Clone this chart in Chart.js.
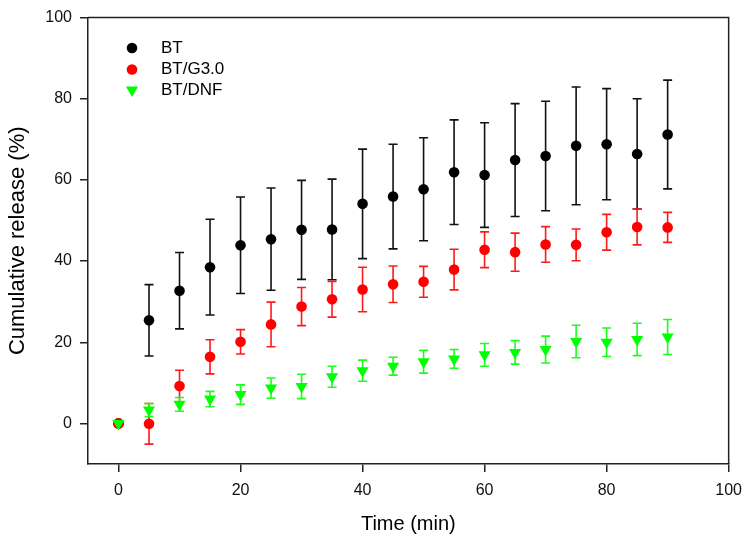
<!DOCTYPE html>
<html>
<head>
<meta charset="utf-8">
<script src="https://cdn.jsdelivr.net/npm/chart.js@4.4.1/dist/chart.umd.min.js"></script>
<style>
html,body{margin:0;padding:0;background:#fff;}
#wrap{width:751px;height:548px;}
</style>
</head>
<body>
<div id="wrap"><canvas id="c" width="751" height="548"></canvas></div>
<script>
// ---- data ----
const times = [0,5,10,15,20,25,30,35,40,45,50,55,60,65,70,75,80,85,90];
const btMean = [0,25.4,32.7,38.5,43.9,45.4,47.7,47.8,54.1,55.9,57.7,61.9,61.2,64.9,65.9,68.4,68.8,66.4,71.2];
const btErr  = [0,8.8,9.4,11.8,11.9,12.6,12.2,12.4,13.5,12.9,12.7,12.9,12.9,13.9,13.5,14.5,13.7,13.6,13.4];
const g3Mean = [0,-0.1,9.2,16.4,20.1,24.4,28.8,30.6,33.0,34.3,34.9,37.9,42.8,42.2,44.1,44.0,47.1,48.4,48.3];
const g3Err  = [0,5.0,3.9,4.2,3.0,5.5,4.7,4.4,5.5,4.5,3.8,5.0,4.4,4.7,4.4,3.9,4.4,4.4,3.7];
const dnfMean = [0,3.3,4.7,6.0,7.1,8.7,9.1,11.5,13.0,14.1,15.2,15.9,16.9,17.5,18.2,20.2,20.0,20.7,21.3];
const dnfErr  = [0,1.6,1.7,1.9,2.4,2.5,3.0,2.6,2.6,2.2,2.8,2.3,2.8,2.9,3.3,4.0,3.5,4.0,4.3];
const seriesLabels = ['BT','BT/G3.0','BT/DNF'];
const xTicks = [0,20,40,60,80,100];
const yTicks = [0,20,40,60,80,100];

const FONT = "'Liberation Sans', Arial, Helvetica, sans-serif";
const AXIS_COLOR = '#222';

function pts(means){ return times.map((t,i)=>({x:t, y:means[i]})); }

const errorBarPlugin = {
  id:'errorBars',
  beforeDatasetDraw(chart, args){
    const ds = chart.data.datasets[args.index];
    if(!ds.errors) return;
    const {ctx} = chart; const x = chart.scales.x, y = chart.scales.y;
    const cap = 4.5;
    ctx.save();
    ctx.strokeStyle = ds.errColor; ctx.lineWidth = 1.6;
    ds.data.forEach((p,j)=>{
      const e = ds.errors[j]; if(!e) return;
      const px = x.getPixelForValue(p.x);
      const yt = y.getPixelForValue(p.y+e), yb = y.getPixelForValue(p.y-e);
      ctx.beginPath();
      ctx.moveTo(px,yt); ctx.lineTo(px,yb);
      ctx.moveTo(px-cap,yt); ctx.lineTo(px+cap,yt);
      ctx.moveTo(px-cap,yb); ctx.lineTo(px+cap,yb);
      ctx.stroke();
    });
    ctx.restore();
  }
};

const framePlugin = {
  id:'frame',
  afterDraw(chart){
    const {ctx, chartArea:a} = chart;
    ctx.save();
    ctx.strokeStyle = AXIS_COLOR; ctx.lineWidth = 1.5;
    ctx.beginPath();
    ctx.moveTo(a.left, a.top); ctx.lineTo(a.right, a.top); ctx.lineTo(a.right, a.bottom);
    ctx.stroke();
    ctx.restore();
  }
};

const legendPlugin = {
  id:'insideLegend',
  afterDraw(chart){
    const {ctx} = chart;
    const x0 = 132, ys = [48, 69.5, 90], tx = 161;
    ctx.save();
    chart.data.datasets.forEach((ds,i)=>{
      ctx.fillStyle = ds.backgroundColor; ctx.strokeStyle = ds.backgroundColor;
      Chart.helpers.drawPoint(ctx, {pointStyle: ds.pointStyle, radius: ds.pointRadius, rotation: ds.pointRotation||0, borderWidth:0}, x0, ys[i]);
      ctx.fillStyle = '#000';
      ctx.font = '17px ' + FONT;
      ctx.textBaseline = 'middle'; ctx.textAlign = 'left';
      ctx.fillText(ds.label, tx, ys[i]);
    });
    ctx.restore();
  }
};

const chart = new Chart(document.getElementById('c'), {
  type:'scatter',
  data:{
    datasets:[
      {label:seriesLabels[0], data:pts(btMean), errors:btErr, errColor:'#111',
       backgroundColor:'#000', borderColor:'#000', pointStyle:'circle', pointRadius:5.3, pointBorderWidth:0, order:3},
      {label:seriesLabels[1], data:pts(g3Mean), errors:g3Err, errColor:'#ff1a1a',
       backgroundColor:'#ff0000', borderColor:'#ff0000', pointStyle:'circle', pointRadius:5.3, pointBorderWidth:0, order:2},
      {label:seriesLabels[2], data:pts(dnfMean), errors:dnfErr, errColor:'#1aff1a',
       backgroundColor:'#00ff00', borderColor:'#00ff00', pointStyle:'triangle', pointRotation:180, pointRadius:7, pointBorderWidth:0, order:1}
    ]
  },
  options:{
    responsive:false, animation:false, devicePixelRatio:1,
    layout:{padding:{top:14,right:22,bottom:0,left:0}},
    plugins:{legend:{display:false}, tooltip:{enabled:false}},
    scales:{
      x:{
        type:'linear', min:-5, max:100,
        afterBuildTicks(s){ s.ticks = xTicks.map(v=>({value:v})); },
        afterFit(s){ s.height = 84; },
        grid:{display:true, drawOnChartArea:false, drawTicks:true, tickLength:8, color:AXIS_COLOR, lineWidth:1.5},
        border:{display:true, color:AXIS_COLOR, width:1.5},
        ticks:{color:'#111', font:{family:FONT, size:16}, padding:9, maxRotation:0},
        title:{display:true, text:'Time (min)', color:'#000', font:{family:FONT, size:20}, padding:{top:4,bottom:12}}
      },
      y:{
        type:'linear', min:-10, max:100,
        afterBuildTicks(s){ s.ticks = yTicks.map(v=>({value:v})); },
        afterFit(s){ s.width = 88; },
        grid:{display:true, drawOnChartArea:false, drawTicks:true, tickLength:8, color:AXIS_COLOR, lineWidth:1.5},
        border:{display:true, color:AXIS_COLOR, width:1.5},
        ticks:{color:'#111', font:{family:FONT, size:16}, padding:8},
        title:{display:true, text:'Cumulative release (%)', color:'#000', font:{family:FONT, size:22}, padding:{top:5,bottom:4}}
      }
    }
  },
  plugins:[errorBarPlugin, framePlugin, legendPlugin]
});
</script>
</body>
</html>
